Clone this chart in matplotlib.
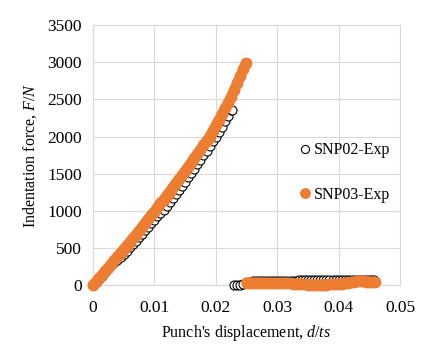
import numpy as np
import matplotlib.pyplot as plt

plt.rcParams['font.family'] = ['Liberation Serif', 'DejaVu Serif']
plt.rcParams['mathtext.fontset'] = 'custom'
plt.rcParams['mathtext.rm'] = 'Liberation Serif'
plt.rcParams['mathtext.it'] = 'Liberation Serif:italic'

# SNP02 loading (displacement d/ts, force N)
snp02_load_x = [0, 0.0005, 0.001, 0.0015, 0.002, 0.0025, 0.003, 0.0035, 0.004, 0.0045,
                0.005, 0.0055, 0.006, 0.0065, 0.007, 0.0075, 0.008, 0.0085, 0.009, 0.0095,
                0.010, 0.0105, 0.011, 0.0115, 0.012, 0.0125, 0.013, 0.0135, 0.014, 0.0145,
                0.015, 0.0155, 0.016, 0.0165, 0.017, 0.0175, 0.018, 0.0185, 0.019, 0.0195,
                0.020, 0.0205, 0.021, 0.0215, 0.022, 0.0225, 0.02258]
snp02_load_y = [0, 40, 80, 125, 170, 240, 270, 305, 340, 380,
                420, 465, 515, 560, 600, 645, 690, 740, 785, 835,
                880, 925, 965, 1010, 1065, 1115, 1170, 1225, 1280, 1335,
                1390, 1450, 1510, 1570, 1630, 1690, 1750, 1810, 1875, 1935,
                2000, 2065, 2130, 2205, 2280, 2355, 2365]

# SNP02 unloading
snp02_unl_x = [0.0230, 0.0235, 0.0240, 0.0245, 0.0250, 0.0255, 0.0260, 0.0265, 0.0270, 0.0275,
               0.0280, 0.0285, 0.0290, 0.0295, 0.0300, 0.0305, 0.0310, 0.0315, 0.0320, 0.0325,
               0.0330, 0.0335, 0.0340, 0.0345, 0.0350, 0.0355, 0.0360, 0.0365, 0.0370, 0.0375,
               0.0380, 0.0385, 0.0390, 0.0395, 0.0400, 0.0405, 0.0410, 0.0415, 0.0420, 0.0425,
               0.0430, 0.0435, 0.0440, 0.0445, 0.0450, 0.0455, 0.0458]
snp02_unl_y = [5, 5, 5, 10, 30, 45, 50, 52, 55, 55,
               55, 57, 58, 58, 60, 60, 60, 61, 62, 62,
               62, 63, 65, 65, 65, 66, 68, 69, 70, 70,
               70, 71, 72, 72, 72, 72, 72, 72, 73, 74,
               75, 75, 75, 75, 75, 72, 70]

# SNP03 loading
snp03_load_x = [0, 0.0005, 0.001, 0.0015, 0.002, 0.0025, 0.003, 0.0035, 0.004, 0.0045,
                0.005, 0.0055, 0.006, 0.0065, 0.007, 0.0075, 0.008, 0.0085, 0.009, 0.0095,
                0.010, 0.0105, 0.011, 0.0115, 0.012, 0.0125, 0.013, 0.0135, 0.014, 0.0145,
                0.015, 0.0155, 0.016, 0.0165, 0.017, 0.0175, 0.018, 0.0185, 0.019, 0.0195,
                0.020, 0.0205, 0.021, 0.0215, 0.022, 0.0225, 0.023, 0.0235, 0.024, 0.0245,
                0.0249]
snp03_load_y = [0, 45, 95, 140, 190, 235, 285, 335, 385, 435,
                480, 530, 580, 630, 680, 730, 780, 835, 885, 940,
                990, 1045, 1100, 1150, 1205, 1260, 1315, 1370, 1425, 1478,
                1535, 1593, 1650, 1708, 1767, 1826, 1884, 1942, 2000, 2075,
                2150, 2225, 2300, 2380, 2455, 2535, 2625, 2720, 2815, 2910,
                2990]

# SNP03 unloading
snp03_unl_x = [0.0250, 0.0255, 0.0260, 0.0265, 0.0270, 0.0275, 0.0280, 0.0285, 0.0290, 0.0295,
               0.0300, 0.0305, 0.0310, 0.0315, 0.0320, 0.0325, 0.0330, 0.0335, 0.0340, 0.0345,
               0.0350, 0.0355, 0.0360, 0.0365, 0.0370, 0.0375, 0.0380, 0.0385, 0.0390, 0.0395,
               0.0400, 0.0405, 0.0410, 0.0415, 0.0420, 0.0425, 0.0430, 0.0435, 0.0440, 0.0445,
               0.0450, 0.0455, 0.0459]
snp03_unl_y = [35, 32, 30, 30, 30, 29, 28, 27, 25, 25,
               25, 25, 25, 24, 22, 20, 18, 15, 12, 10,
               8, 6, 5, 5, 5, 6, 8, 9, 10, 12,
               15, 20, 25, 32, 40, 45, 50, 50, 50, 48,
               45, 45, 45]

x_ticks = [0, 0.01, 0.02, 0.03, 0.04, 0.05]
x_labels = ['0', '0.01', '0.02', '0.03', '0.04', '0.05']
y_ticks = [0, 500, 1000, 1500, 2000, 2500, 3000, 3500]

orange = '#ED7D31'
grid_c = '#d9d9d9'

fig = plt.figure(figsize=(4.34, 3.46), dpi=100)
ax = fig.add_axes([0.214, 0.176, 0.708, 0.751])

ms_b = 6.5
ms_o = 7.5
ax.plot(snp02_load_x, snp02_load_y, 'o', ms=ms_b, mfc='white', mec='black', mew=0.8,
        label='SNP02-Exp', zorder=3, clip_on=False)
ax.plot(snp02_unl_x, snp02_unl_y, 'o', ms=ms_b, mfc='white', mec='black', mew=0.8,
        zorder=3, clip_on=False)

ax.plot(snp03_load_x, snp03_load_y, '-', color=orange, lw=ms_o, solid_capstyle='round',
        zorder=4, clip_on=False)
ax.plot(snp03_load_x, snp03_load_y, 'o', ms=ms_o, color=orange, mec=orange, zorder=4,
        label='SNP03-Exp', clip_on=False)
ax.plot(snp03_unl_x, snp03_unl_y, '-', color=orange, lw=ms_o, solid_capstyle='round',
        zorder=4, clip_on=False)
ax.plot(snp03_unl_x, snp03_unl_y, 'o', ms=ms_o, color=orange, mec=orange, zorder=4,
        clip_on=False)

ax.set_xlim(0, 0.05)
ax.set_ylim(0, 3500)
ax.set_xticks(x_ticks)
ax.set_xticklabels(x_labels)
ax.set_yticks(y_ticks)
ax.tick_params(axis='y', length=0, labelsize=12.5, pad=8)
ax.tick_params(axis='x', length=0, labelsize=12.5, pad=11)
ax.grid(True, color=grid_c, lw=0.8)
ax.set_axisbelow(True)
for s in ax.spines.values():
    s.set_color(grid_c)
    s.set_linewidth(0.8)

ax.set_xlabel("Punch's displacement, $\\it{d/ts}$", fontsize=11.5, labelpad=5)
ax.set_ylabel("Indentation force, $\\it{F/N}$", fontsize=11.5, labelpad=6)

ax.legend(loc='center left', bbox_to_anchor=(0.654, 0.433), frameon=False, fontsize=11.5,
          handlelength=0.6, handletextpad=0.25, labelspacing=1.8, borderaxespad=0,
          markerscale=0.9)

fig.savefig('out.png', dpi=100)
